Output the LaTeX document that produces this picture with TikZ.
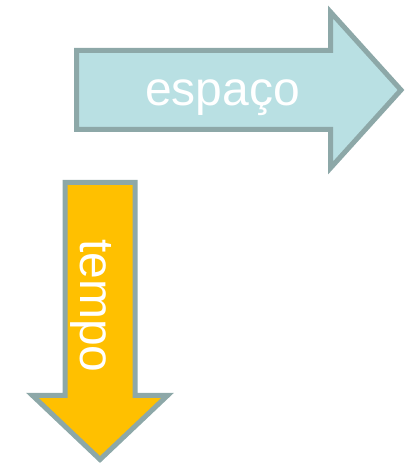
\documentclass[tikz,border=0pt]{standalone}
\usepackage{fontspec}
\setmainfont{Liberation Sans}
\usepackage{tikz}
\usepackage{tkz-euclide}
\usepackage{xcolor}

\definecolor{bordaseta}{HTML}{8DA8A8}
\definecolor{azulclaro}{HTML}{B9E0E3}
\definecolor{laranja}{HTML}{FFC000}

\begin{document}
\begin{tikzpicture}[x=1pt, y=1pt,
  seta/.style={draw=bordaseta, line width=5pt, line join=miter},
  rotulo/.style={text=white, inner sep=0pt, font=\fontsize{48}{58}\selectfont}] %estilos das setas e dos rotulos

%Os pontos das duas setas e dos cantos da figura (x/y/NomedoPonto)
\tkzDefPoints{
0/0/O,
405/465/P,
76.5/414.5/A,
330.5/414.5/B,
330.5/453/C,
401/375/D,
330.5/297/E,
330.5/335.5/F,
76.5/335.5/G,
65/282.5/H,
135/282.5/I,
135/69.5/J,
167.5/69.5/K,
100/5.5/L,
32.5/69.5/M,
65/69.5/N}

\useasboundingbox (O) rectangle (P);

%Seta horizontal do espaco, preenchida de azul claro
%---------------------------------------------------
\draw[seta, fill=azulclaro] (A) -- (B) -- (C) -- (D) -- (E) -- (F) -- (G) -- cycle;
\node[rotulo, anchor=base] (espaco) at (222.5,359) {espaço};
%---------------------------------------------------

%Seta vertical do tempo, preenchida de laranja, com o texto girado
%---------------------------------------------------
\draw[seta, fill=laranja] (H) -- (I) -- (J) -- (K) -- (L) -- (M) -- (N) -- cycle;
\node[rotulo, anchor=base, rotate=-90] (tempo) at (80,159) {tempo};
%---------------------------------------------------

\end{tikzpicture}
\end{document}
